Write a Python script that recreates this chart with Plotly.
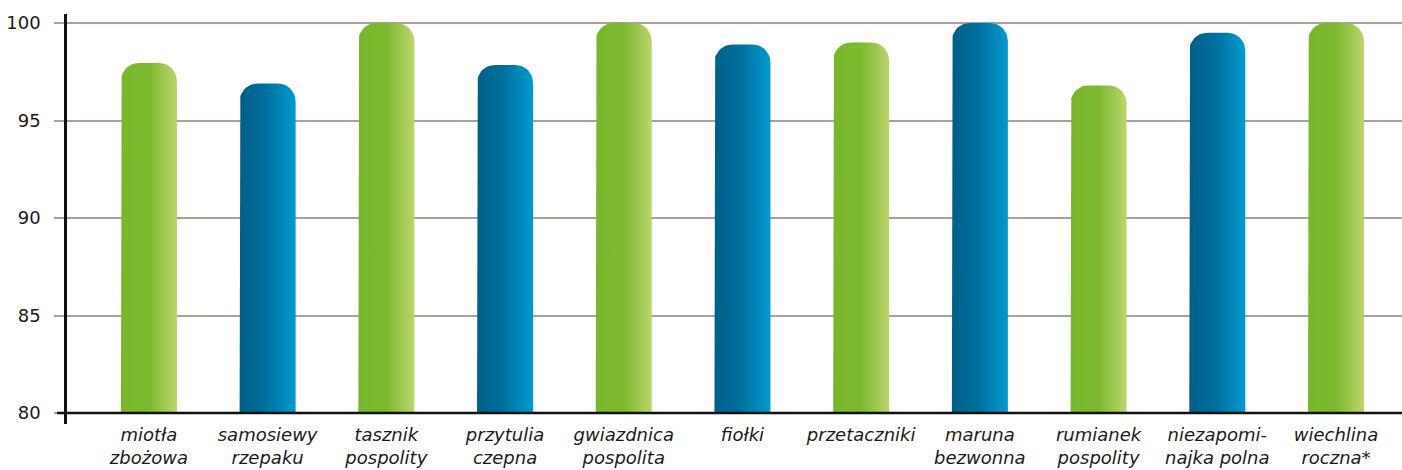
import numpy as np
import plotly.graph_objects as go

categories = ["miotła<br>zbożowa", "samosiewy<br>rzepaku", "tasznik<br>pospolity",
              "przytulia<br>czepna", "gwiazdnica<br>pospolita", "fiołki",
              "przetaczniki", "maruna<br>bezwonna", "rumianek<br>pospolity",
              "niezapomi-<br>najka polna", "wiechlina<br>roczna*"]
values = [97.95, 96.9, 100.0, 97.85, 100.0, 98.9, 99.0, 100.0, 96.8, 99.5, 100.0]
series_kind = ["g", "b", "g", "b", "g", "b", "g", "b", "g", "b", "g"]
yticks = [80, 85, 90, 95, 100]

W, H = 1402, 470
ml, mr, mt, mb = 67, 0, 14, 46
xr = [-0.69, 10.556]
yr = [79.44, 100.46]
pw, ph = W - ml - mr, H - mt - mb
px_x = pw / (xr[1] - xr[0])
px_y = ph / (yr[1] - yr[0])

bar_px = 56
rad_px = 18
hw = bar_px / 2 / px_x
rx = rad_px / px_x
ry = rad_px / px_y

grads = {
    "g": [[0, "#78b72c"], [0.5, "#7cb92f"], [1, "#bad56c"]],
    "b": [[0, "#005f88"], [0.45, "#006f9c"], [1, "#009bd0"]],
}

fig = go.Figure()
t = np.linspace(0, np.pi / 2, 12)
for i, (v, k) in enumerate(zip(values, series_kind)):
    xl, xrr = i - hw, i + hw
    xs = [xl, xl]
    ys = [80, v - ry]
    xs += list(xl + rx - rx * np.cos(t))
    ys += list(v - ry + ry * np.sin(t))
    xs += list(xrr - rx + rx * np.sin(t))
    ys += list(v - ry + ry * np.cos(t))
    xs += [xrr, xrr, xl]
    ys += [v - ry, 80, 80]
    fig.add_trace(go.Scatter(
        x=xs, y=ys, mode="lines", fill="toself",
        line=dict(width=0, color="rgba(0,0,0,0)"),
        fillgradient=dict(type="horizontal", colorscale=grads[k]),
        hoverinfo="skip", showlegend=False,
    ))

fig.add_shape(type="line", xref="paper", yref="y", x0=-10 / pw, x1=1, y0=80, y1=80,
              line=dict(color="#111111", width=2.5), layer="above")

fig.update_layout(
    width=W, height=H,
    margin=dict(l=ml, r=mr, t=mt, b=mb, autoexpand=False),
    paper_bgcolor="white", plot_bgcolor="white",
    font=dict(family="DejaVu Sans", color="#1a1a1a"),
    xaxis=dict(range=xr, tickmode="array", tickvals=list(range(len(categories))),
               ticktext=["<i>" + c + "</i>" for c in categories],
               tickfont=dict(size=18, color="#1a1a1a"), showgrid=False,
               zeroline=False, showline=False, ticks="", automargin=False,
               ticklabelstandoff=-2),
    yaxis=dict(range=yr, tickmode="array", tickvals=yticks,
               tickfont=dict(size=18, color="#1a1a1a"),
               showgrid=True, gridcolor="#a9a19c", gridwidth=1.5,
               zeroline=False, showline=True, linecolor="#111111", linewidth=2.5,
               ticks="outside", ticklen=10, tickcolor="#a9a19c", tickwidth=1.5,
               ticklabelstandoff=10, automargin=False),
)

fig.write_html("out.html", config={"displayModeBar": False},
               post_script="document.body.style.margin='0';document.body.style.overflow='hidden';")
